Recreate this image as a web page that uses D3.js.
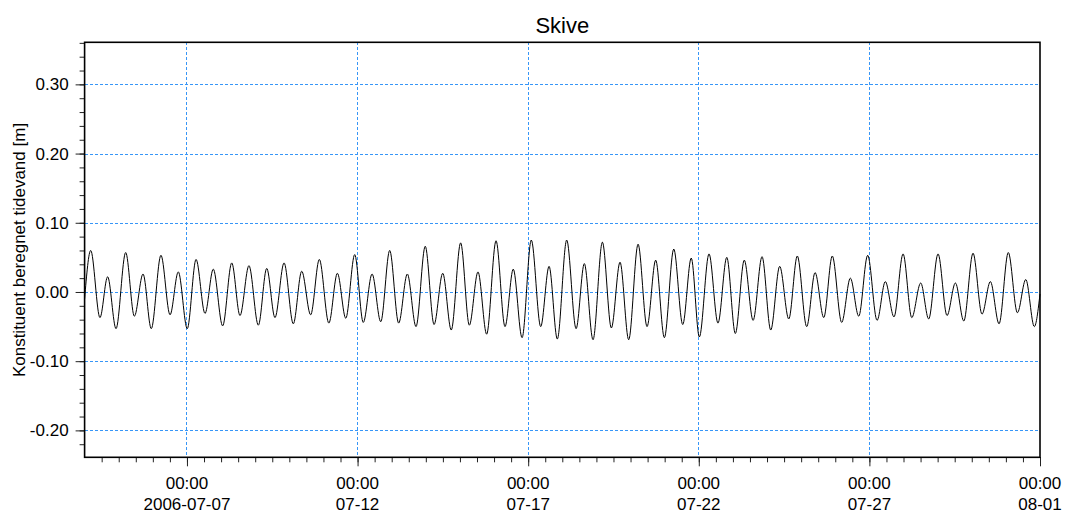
<!DOCTYPE html>
<html>
<head>
<meta charset="utf-8">
<script src="https://cdn.jsdelivr.net/npm/d3@7"></script>
<style>
  html, body { margin: 0; padding: 0; background: #fff; }
  svg { display: block; }
  text { font-family: "Liberation Sans", Arial, sans-serif; fill: #000; }
</style>
</head>
<body>
<svg id="chart" width="1066" height="513"></svg>
<script>
// ---- data ----
const chartTitle = "Skive";
const yLabel = "Konstituent beregnet tidevand [m]";
const startTime = "2006-07-04T00:00:00Z";
const endTime = "2006-08-01T00:00:00Z";
// hours after startTime of each high / low water, and water level [m]
const extremaHours = [0, 4.3, 10.8, 16.2, 22.1, 28.9, 35.0, 41.1, 46.9, 53.7, 60.1, 65.9, 72.2, 78.4, 84.7, 90.5, 97.1,
  103.5, 109.3, 115.6, 122.2, 128.1, 133.9, 140.3, 146.8, 152.7, 159.0, 165.1, 171.8, 177.8, 183.7, 190.0, 196.0,
  202.2, 208.3, 214.6, 220.9, 227.0, 233.1, 239.6, 245.8, 251.9, 257.9, 264.5, 270.6, 276.7, 282.8, 289.4, 295.7,
  301.5, 307.7, 314.2, 320.8, 326.7, 332.5, 339.1, 345.7, 351.5, 357.6, 364.2, 370.5, 376.6, 382.7, 389.3, 395.6,
  401.7, 407.8, 414.4, 420.7, 426.7, 432.4, 439.2, 445.5, 451.7, 457.7, 464.0, 470.2, 476.5, 482.6, 488.9, 495.3,
  501.3, 507.9, 513.8, 519.9, 525.9, 532.5, 538.6, 544.5, 550.8, 557.4, 563.2, 569.3, 575.7, 581.8, 588.1, 593.7,
  600.3, 606.6, 612.5, 618.4, 624.9, 631.2, 637.1, 643.2, 649.7, 656.1, 662.0, 668.0, 672];
const extremaValues = [-0.010, 0.060, -0.037, 0.022, -0.053, 0.057, -0.035, 0.026, -0.053, 0.053, -0.033, 0.029, -0.053, 0.047, -0.031, 0.033, -0.049,
  0.042, -0.034, 0.038, -0.048, 0.034, -0.037, 0.042, -0.046, 0.030, -0.033, 0.047, -0.045, 0.027, -0.038, 0.054, -0.044,
  0.026, -0.043, 0.060, -0.045, 0.026, -0.050, 0.066, -0.047, 0.027, -0.055, 0.071, -0.048, 0.029, -0.061, 0.074, -0.050,
  0.033, -0.066, 0.075, -0.050, 0.037, -0.068, 0.075, -0.053, 0.041, -0.069, 0.072, -0.052, 0.043, -0.069, 0.069, -0.050,
  0.046, -0.066, 0.062, -0.047, 0.049, -0.065, 0.055, -0.045, 0.050, -0.060, 0.046, -0.041, 0.051, -0.055, 0.037, -0.039,
  0.052, -0.050, 0.028, -0.037, 0.052, -0.044, 0.020, -0.035, 0.053, -0.041, 0.015, -0.036, 0.055, -0.037, 0.013, -0.039,
  0.055, -0.034, 0.013, -0.042, 0.056, -0.032, 0.015, -0.046, 0.057, -0.030, 0.018, -0.050, -0.003];
const yDomain = [-0.2389, 0.3608];
const yMajorTicks = [-0.20, -0.10, 0.00, 0.10, 0.20, 0.30];
const xMajorDates = ["2006-07-07", "2006-07-12", "2006-07-17", "2006-07-22", "2006-07-27", "2006-08-01"];
const xTimeLabels = ["00:00", "00:00", "00:00", "00:00", "00:00", "00:00"];
const xDateLabels = ["2006-07-07", "07-12", "07-17", "07-22", "07-27", "08-01"];

// ---- layout ----
const L = 84.6, R = 1040, T = 42.3, B = 457.3;
const svg = d3.select("#chart");
const t0 = new Date(startTime), t1 = new Date(endTime);
const x = d3.scaleUtc().domain([t0, t1]).range([L, R]);
const y = d3.scaleLinear().domain(yDomain).range([B, T]);

const data = extremaHours.map((h, i) => ({ t: new Date(t0.getTime() + h * 3600e3), v: extremaValues[i] }));
const majorDates = xMajorDates.map(s => new Date(s + "T00:00:00Z"));
const minorDates = d3.utcHour.every(12).range(t0, d3.utcHour.offset(t1, 1)).filter(d => +d > +t0);
const yMinor = d3.range(-24, 37, 2).map(v => v / 100).filter(v => v >= yDomain[0] && v <= yDomain[1]);

const gridColor = "#3796f7";
// grid
svg.append("g").attr("shape-rendering", "crispEdges").selectAll("line").data(yMajorTicks).join("line")
  .attr("x1", L).attr("x2", R)
  .attr("y1", d => Math.round(y(d)) + 0.5).attr("y2", d => Math.round(y(d)) + 0.5)
  .attr("stroke", gridColor).attr("stroke-width", 1).attr("stroke-dasharray", "3,2");
svg.append("g").attr("shape-rendering", "crispEdges").selectAll("line").data(majorDates.filter(d => +d < +t1)).join("line")
  .attr("x1", d => Math.floor(x(d)) + 0.5).attr("x2", d => Math.floor(x(d)) + 0.5)
  .attr("y1", T).attr("y2", B)
  .attr("stroke", gridColor).attr("stroke-width", 1).attr("stroke-dasharray", "3,2");

// series
const line = d3.line().x(d => x(d.t)).y(d => y(d.v)).curve(d3.curveMonotoneX);
svg.append("path").datum(data).attr("d", line)
  .attr("fill", "none").attr("stroke", "#000").attr("stroke-width", 1);

// y axis ticks
const yAxisMinor = d3.axisLeft(y).tickValues(yMinor).tickSize(5).tickFormat("");
const yAxisMajor = d3.axisLeft(y).tickValues(yMajorTicks).tickSize(9).tickPadding(7)
  .tickFormat(d => d.toFixed(2));
const gy1 = svg.append("g").attr("transform", `translate(${L},0)`).call(yAxisMinor);
const gy2 = svg.append("g").attr("transform", `translate(${L},0)`).call(yAxisMajor);
[gy1, gy2].forEach(g => { g.select(".domain").remove(); g.selectAll("line").attr("stroke", "#222"); });
gy2.selectAll("text").attr("font-size", 17).attr("font-family", "Liberation Sans, Arial, sans-serif").attr("fill", "#000");

// x axis ticks
const xAxisMinor = d3.axisBottom(x).tickValues(minorDates).tickSize(5).tickFormat("");
const xAxisMajor = d3.axisBottom(x).tickValues(majorDates).tickSize(9).tickFormat("");
const gx1 = svg.append("g").attr("transform", `translate(0,${B})`).call(xAxisMinor);
const gx2 = svg.append("g").attr("transform", `translate(0,${B})`).call(xAxisMajor);
[gx1, gx2].forEach(g => { g.select(".domain").remove(); g.selectAll("line").attr("stroke", "#222"); });
const xl = svg.append("g");
majorDates.forEach((d, i) => {
  const t = xl.append("text").attr("x", x(d)).attr("text-anchor", "middle").attr("font-size", 17);
  t.append("tspan").attr("x", x(d)).attr("y", 489).text(xTimeLabels[i]);
  t.append("tspan").attr("x", x(d)).attr("y", 510).text(xDateLabels[i]);
});

// frame
svg.append("rect").attr("x", L).attr("y", T).attr("width", R - L).attr("height", B - T)
  .attr("fill", "none").attr("stroke", "#000").attr("stroke-width", 1.6);

// title & y label
svg.append("text").attr("x", (L + R) / 2).attr("y", 33).attr("text-anchor", "middle")
  .attr("font-size", 22).text(chartTitle);
svg.append("text").attr("transform", `translate(25,250) rotate(-90)`).attr("text-anchor", "middle")
  .attr("font-size", 17).text(yLabel);
</script>
</body>
</html>
